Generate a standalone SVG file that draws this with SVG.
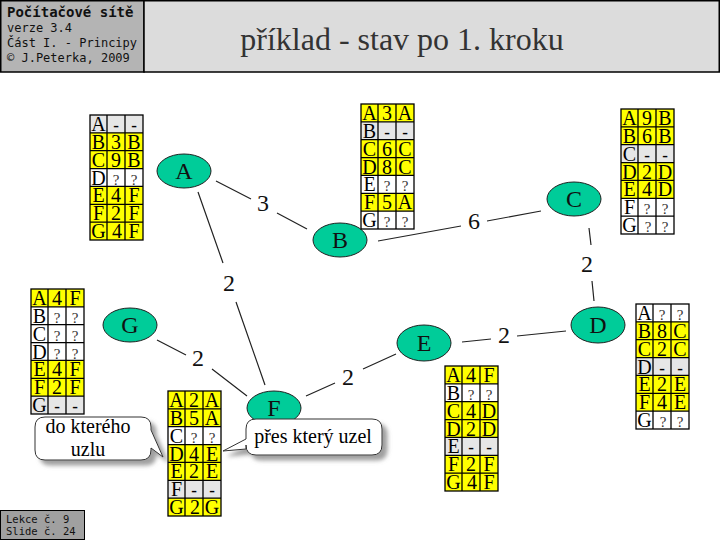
<svg xmlns="http://www.w3.org/2000/svg" xmlns:xlink="http://www.w3.org/1999/xlink" width="720" height="540" viewBox="0 0 720 540">
<style>
.hdr{font-family:"DejaVu Sans Mono","Liberation Mono",monospace;fill:#111}
.title{font-family:"Liberation Serif","Times New Roman",serif;font-size:32px;fill:#333;text-anchor:middle}
.node{fill:#00CC99;stroke:#222;stroke-width:1}
.nl{font-family:"Liberation Serif","Times New Roman",serif;font-size:24px;fill:#111;text-anchor:middle}
.edge{stroke:#222;stroke-width:1.2;fill:none}
.el{font-family:"Liberation Serif","Times New Roman",serif;font-size:24px;fill:#111;text-anchor:middle}
.y{fill:#FFFF00}
.w{fill:#FFFFFF}
.g{fill:#E6E6E6}
.grid{fill:none;stroke:#000;stroke-width:1.3}
.ct{font-family:"Liberation Serif","Times New Roman",serif;font-size:20px;fill:#000;text-anchor:middle}
.q{font-size:15px;fill:#333}
.d{font-size:17px;font-weight:bold}
.co{fill:#fff;stroke:#333;stroke-width:1}
.cot{font-family:"Liberation Serif","Times New Roman",serif;font-size:20px;fill:#000;text-anchor:middle}
</style>
<defs>
<g id="grid">
<rect class="grid" x="0" y="0" width="53" height="125"/>
<path class="grid" d="M17,0V125M35,0V125M0,17.86H53M0,35.71H53M0,53.57H53M0,71.43H53M0,89.29H53M0,107.14H53"/>
</g>
<filter id="sh" x="-20%" y="-20%" width="150%" height="160%">
<feDropShadow dx="5" dy="5" stdDeviation="2" flood-color="#888" flood-opacity="0.8"/>
</filter>
</defs>
<rect x="0" y="0" width="720" height="540" fill="#fff"/>
<g id="header">
<rect x="0.75" y="0.75" width="143.25" height="71.25" fill="#B4B4B4" stroke="#000" stroke-width="1.5"/>
<rect x="144" y="0.75" width="575.25" height="71.25" fill="#DCDCDC" stroke="#000" stroke-width="1.5"/>
<text class="hdr" x="7" y="17" font-size="14" font-weight="bold">Počítačové sítě</text>
<text class="hdr" x="7" y="32" font-size="12">verze 3.4</text>
<text class="hdr" x="7" y="47" font-size="12">Část I. - Principy</text>
<text class="hdr" x="7" y="62" font-size="12">© J.Peterka, 2009</text>
<text class="title" x="402" y="50">příklad - stav po 1. kroku</text>
</g>
<g id="footer">
<rect x="0.5" y="510.5" width="84" height="29" fill="#A0A0A0" stroke="#000" stroke-width="1"/>
<text class="hdr" x="6" y="523" font-size="10.5">Lekce č. 9</text>
<text class="hdr" x="6" y="535" font-size="10.5">Slide č. 24</text>
</g>
<g id="connectors">
<path class="edge" d="M216,181L251,199M277,213L307,229"/>
<text class="el" x="263" y="211">3</text>
<path class="edge" d="M198,192L223,263M236,302L265,385"/>
<text class="el" x="229" y="291">2</text>
<path class="edge" d="M157,340L186,355M212,369L247,396"/>
<text class="el" x="198" y="366">2</text>
<path class="edge" d="M396,354L363,369M335,383L306,396"/>
<text class="el" x="348" y="385">2</text>
<path class="edge" d="M378,241L461,226M487,221L541,211"/>
<text class="el" x="474" y="229">6</text>
<path class="edge" d="M589,228L591,245M592,281L594,301"/>
<text class="el" x="587" y="272">2</text>
<path class="edge" d="M566,331L517,336M491,339L462,342"/>
<text class="el" x="504" y="343">2</text>
</g>
<g id="node-A"><ellipse class="node" cx="184" cy="171" rx="27" ry="17"/><text class="nl" x="184" y="179">A</text></g>
<g id="node-B"><ellipse class="node" cx="340" cy="240" rx="27" ry="17"/><text class="nl" x="340" y="248">B</text></g>
<g id="node-C"><ellipse class="node" cx="574" cy="199" rx="27" ry="17"/><text class="nl" x="574" y="207">C</text></g>
<g id="node-D"><ellipse class="node" cx="598" cy="325" rx="27" ry="18"/><text class="nl" x="598" y="333">D</text></g>
<g id="node-E"><ellipse class="node" cx="424" cy="343" rx="27" ry="18"/><text class="nl" x="424" y="351">E</text></g>
<g id="node-F"><ellipse class="node" cx="274" cy="408" rx="27" ry="17"/><text class="nl" x="274" y="416">F</text></g>
<g id="node-G"><ellipse class="node" cx="130" cy="325" rx="27" ry="17"/><text class="nl" x="130" y="333">G</text></g>

<g id="table-A" transform="translate(90,115)">
<rect class="g" x="0" y="0" width="53" height="17.86"/>
<rect class="y" x="0" y="17.86" width="53" height="35.71"/>
<rect class="w" x="0" y="53.57" width="53" height="17.86"/>
<rect class="y" x="0" y="71.43" width="53" height="53.57"/>
<use xlink:href="#grid"/>
<text class="ct" y="16"><tspan x="8.5">A</tspan><tspan class="d" x="26">-</tspan><tspan class="d" x="44">-</tspan></text>
<text class="ct" y="33.9"><tspan x="8.5">B</tspan><tspan x="26">3</tspan><tspan x="44">B</tspan></text>
<text class="ct" y="51.7"><tspan x="8.5">C</tspan><tspan x="26">9</tspan><tspan x="44">B</tspan></text>
<text class="ct" y="69.6"><tspan x="8.5">D</tspan><tspan class="q" x="26">?</tspan><tspan class="q" x="44">?</tspan></text>
<text class="ct" y="87.4"><tspan x="8.5">E</tspan><tspan x="26">4</tspan><tspan x="44">F</tspan></text>
<text class="ct" y="105.3"><tspan x="8.5">F</tspan><tspan x="26">2</tspan><tspan x="44">F</tspan></text>
<text class="ct" y="123.1"><tspan x="8.5">G</tspan><tspan x="27">4</tspan><tspan x="44">F</tspan></text>
</g>

<g id="table-B" transform="translate(361,104)">
<rect class="y" x="0" y="0" width="53" height="17.86"/>
<rect class="g" x="0" y="17.86" width="53" height="17.86"/>
<rect class="y" x="0" y="35.71" width="53" height="35.71"/>
<rect class="w" x="0" y="71.43" width="53" height="17.86"/>
<rect class="y" x="0" y="89.29" width="53" height="17.86"/>
<rect class="w" x="0" y="107.14" width="53" height="17.86"/>
<use xlink:href="#grid"/>
<text class="ct" y="16"><tspan x="8.5">A</tspan><tspan x="26">3</tspan><tspan x="44">A</tspan></text>
<text class="ct" y="33.9"><tspan x="8.5">B</tspan><tspan class="d" x="26">-</tspan><tspan class="d" x="44">-</tspan></text>
<text class="ct" y="51.7"><tspan x="8.5">C</tspan><tspan x="26">6</tspan><tspan x="44">C</tspan></text>
<text class="ct" y="69.6"><tspan x="8.5">D</tspan><tspan x="26">8</tspan><tspan x="44">C</tspan></text>
<text class="ct" y="87.4"><tspan x="8.5">E</tspan><tspan class="q" x="26">?</tspan><tspan class="q" x="44">?</tspan></text>
<text class="ct" y="105.3"><tspan x="8.5">F</tspan><tspan x="26">5</tspan><tspan x="44">A</tspan></text>
<text class="ct" y="123.1"><tspan x="8.5">G</tspan><tspan class="q" x="26">?</tspan><tspan class="q" x="44">?</tspan></text>
</g>

<g id="table-C" transform="translate(621,109)">
<rect class="y" x="0" y="0" width="53" height="35.71"/>
<rect class="g" x="0" y="35.71" width="53" height="17.86"/>
<rect class="y" x="0" y="53.57" width="53" height="35.71"/>
<rect class="w" x="0" y="89.29" width="53" height="35.71"/>
<use xlink:href="#grid"/>
<text class="ct" y="16"><tspan x="8.5">A</tspan><tspan x="26">9</tspan><tspan x="44">B</tspan></text>
<text class="ct" y="33.9"><tspan x="8.5">B</tspan><tspan x="26">6</tspan><tspan x="44">B</tspan></text>
<text class="ct" y="51.7"><tspan x="8.5">C</tspan><tspan class="d" x="26">-</tspan><tspan class="d" x="44">-</tspan></text>
<text class="ct" y="69.6"><tspan x="8.5">D</tspan><tspan x="26">2</tspan><tspan x="44">D</tspan></text>
<text class="ct" y="87.4"><tspan x="8.5">E</tspan><tspan x="26">4</tspan><tspan x="44">D</tspan></text>
<text class="ct" y="105.3"><tspan x="8.5">F</tspan><tspan class="q" x="26">?</tspan><tspan class="q" x="44">?</tspan></text>
<text class="ct" y="123.1"><tspan x="8.5">G</tspan><tspan class="q" x="27">?</tspan><tspan class="q" x="44">?</tspan></text>
</g>

<g id="table-G" transform="translate(31,289)">
<rect class="y" x="0" y="0" width="53" height="17.86"/>
<rect class="w" x="0" y="17.86" width="53" height="53.57"/>
<rect class="y" x="0" y="71.43" width="53" height="35.71"/>
<rect class="g" x="0" y="107.14" width="53" height="17.86"/>
<use xlink:href="#grid"/>
<text class="ct" y="16"><tspan x="8.5">A</tspan><tspan x="26">4</tspan><tspan x="44">F</tspan></text>
<text class="ct" y="33.9"><tspan x="8.5">B</tspan><tspan class="q" x="26">?</tspan><tspan class="q" x="44">?</tspan></text>
<text class="ct" y="51.7"><tspan x="8.5">C</tspan><tspan class="q" x="26">?</tspan><tspan class="q" x="44">?</tspan></text>
<text class="ct" y="69.6"><tspan x="8.5">D</tspan><tspan class="q" x="26">?</tspan><tspan class="q" x="44">?</tspan></text>
<text class="ct" y="87.4"><tspan x="8.5">E</tspan><tspan x="26">4</tspan><tspan x="44">F</tspan></text>
<text class="ct" y="105.3"><tspan x="8.5">F</tspan><tspan x="26">2</tspan><tspan x="44">F</tspan></text>
<text class="ct" y="123.1"><tspan x="8.5">G</tspan><tspan class="d" x="26">-</tspan><tspan class="d" x="44">-</tspan></text>
</g>

<g id="table-D" transform="translate(636,304)">
<rect class="w" x="0" y="0" width="53" height="17.86"/>
<rect class="y" x="0" y="17.86" width="53" height="35.71"/>
<rect class="g" x="0" y="53.57" width="53" height="17.86"/>
<rect class="y" x="0" y="71.43" width="53" height="35.71"/>
<rect class="w" x="0" y="107.14" width="53" height="17.86"/>
<use xlink:href="#grid"/>
<text class="ct" y="16"><tspan x="8.5">A</tspan><tspan class="q" x="26">?</tspan><tspan class="q" x="44">?</tspan></text>
<text class="ct" y="33.9"><tspan x="8.5">B</tspan><tspan x="26">8</tspan><tspan x="44">C</tspan></text>
<text class="ct" y="51.7"><tspan x="8.5">C</tspan><tspan x="26">2</tspan><tspan x="44">C</tspan></text>
<text class="ct" y="69.6"><tspan x="8.5">D</tspan><tspan class="d" x="26">-</tspan><tspan class="d" x="44">-</tspan></text>
<text class="ct" y="87.4"><tspan x="8.5">E</tspan><tspan x="26">2</tspan><tspan x="44">E</tspan></text>
<text class="ct" y="105.3"><tspan x="8.5">F</tspan><tspan x="26">4</tspan><tspan x="44">E</tspan></text>
<text class="ct" y="123.1"><tspan x="8.5">G</tspan><tspan class="q" x="27">?</tspan><tspan class="q" x="44">?</tspan></text>
</g>

<g id="table-E" transform="translate(445,366)">
<rect class="y" x="0" y="0" width="53" height="17.86"/>
<rect class="w" x="0" y="17.86" width="53" height="17.86"/>
<rect class="y" x="0" y="35.71" width="53" height="35.71"/>
<rect class="g" x="0" y="71.43" width="53" height="17.86"/>
<rect class="y" x="0" y="89.29" width="53" height="35.71"/>
<use xlink:href="#grid"/>
<text class="ct" y="16"><tspan x="8.5">A</tspan><tspan x="26">4</tspan><tspan x="44">F</tspan></text>
<text class="ct" y="33.9"><tspan x="8.5">B</tspan><tspan class="q" x="26">?</tspan><tspan class="q" x="44">?</tspan></text>
<text class="ct" y="51.7"><tspan x="8.5">C</tspan><tspan x="26">4</tspan><tspan x="44">D</tspan></text>
<text class="ct" y="69.6"><tspan x="8.5">D</tspan><tspan x="26">2</tspan><tspan x="44">D</tspan></text>
<text class="ct" y="87.4"><tspan x="8.5">E</tspan><tspan class="d" x="26">-</tspan><tspan class="d" x="44">-</tspan></text>
<text class="ct" y="105.3"><tspan x="8.5">F</tspan><tspan x="26">2</tspan><tspan x="44">F</tspan></text>
<text class="ct" y="123.1"><tspan x="8.5">G</tspan><tspan x="27">4</tspan><tspan x="44">F</tspan></text>
</g>

<g id="table-F" transform="translate(168,391)">
<rect class="y" x="0" y="0" width="53" height="35.71"/>
<rect class="w" x="0" y="35.71" width="53" height="17.86"/>
<rect class="y" x="0" y="53.57" width="53" height="35.71"/>
<rect class="g" x="0" y="89.29" width="53" height="17.86"/>
<rect class="y" x="0" y="107.14" width="53" height="17.86"/>
<use xlink:href="#grid"/>
<text class="ct" y="16"><tspan x="8.5">A</tspan><tspan x="26">2</tspan><tspan x="44">A</tspan></text>
<text class="ct" y="33.9"><tspan x="8.5">B</tspan><tspan x="26">5</tspan><tspan x="44">A</tspan></text>
<text class="ct" y="51.7"><tspan x="8.5">C</tspan><tspan class="q" x="26">?</tspan><tspan class="q" x="44">?</tspan></text>
<text class="ct" y="69.6"><tspan x="8.5">D</tspan><tspan x="26">4</tspan><tspan x="44">E</tspan></text>
<text class="ct" y="87.4"><tspan x="8.5">E</tspan><tspan x="26">2</tspan><tspan x="44">E</tspan></text>
<text class="ct" y="105.3"><tspan x="8.5">F</tspan><tspan class="d" x="26">-</tspan><tspan class="d" x="44">-</tspan></text>
<text class="ct" y="123.1"><tspan x="8.5">G</tspan><tspan x="27">2</tspan><tspan x="44">G</tspan></text>
</g>

<g id="callout-1">
<path class="co" filter="url(#sh)" d="M45,417H141Q151,417 151,427V430L163,457L151,448V450Q151,460 141,460H45Q35,460 35,450V427Q35,417 45,417Z"/>
<text class="cot" x="88" y="433">do kterého</text>
<text class="cot" x="88" y="456">uzlu</text>
</g>
<g id="callout-2">
<path class="co" filter="url(#sh)" d="M256,419H372Q382,419 382,429V445Q382,455 372,455H256Q246,455 246,445V449L223,451L246,439V429Q246,419 256,419Z"/>
<text class="cot" x="313" y="443">přes který uzel</text>
</g>
</svg>
